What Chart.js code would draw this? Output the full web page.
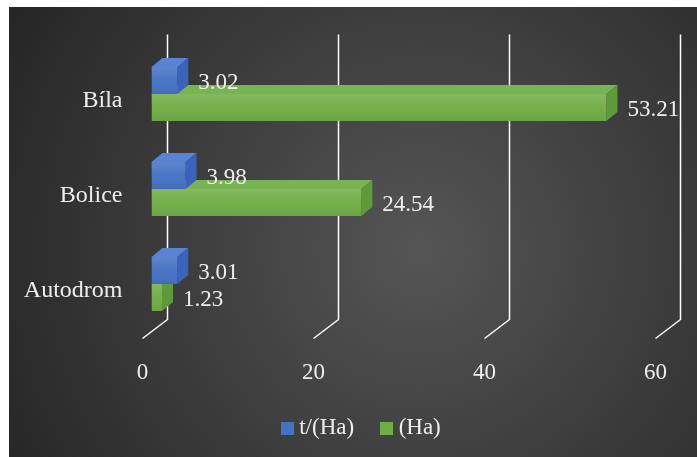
<!DOCTYPE html>
<html>
<head>
<meta charset="utf-8">
<script src="https://cdn.jsdelivr.net/npm/chart.js@4.4.0/dist/chart.umd.min.js"></script>
<style>
  html, body { margin: 0; padding: 0; background: #fff; }
</style>
</head>
<body>
<canvas id="myChart" width="697" height="457"></canvas>
<script>
const places = ['Bíla', 'Bolice', 'Autodrom'];
const tPerHa = [3.02, 3.98, 3.01];
const ha = [53.21, 24.54, 1.23];
const xTickStep = 20;

const serif = "'Liberation Serif', 'Times New Roman', serif";
const textColor = '#eeeeee';
const colors = ['#4472c4', '#70ad47'];

// 3D box: how far the back wall sits from the front edge
const depth = { x: 25, y: -19 };
// bars sit a bit behind the front edge and have their own depth
const barShift = { x: 9, y: -7 };
const barDepth = { x: 11, y: -9 };

const faces = [
    { top: '#5a83d6', side: '#3a63b9' },
    { top: '#78b552', side: '#5e9a39' }
];

// small square swatches for the legend
const swatches = colors.map(c => {
    const cv = document.createElement('canvas');
    cv.width = 13;
    cv.height = 13;
    const x = cv.getContext('2d');
    x.fillStyle = c;
    x.fillRect(0, 0, 13, 13);
    return cv;
});

const backdrop = {
    id: 'backdrop',
    beforeDraw(chart) {
        const ctx = chart.ctx;
        ctx.save();
        ctx.fillStyle = '#fff';
        ctx.fillRect(0, 0, chart.width, chart.height);
        const g = ctx.createRadialGradient(420, 250, 0, 420, 250, 470);
        g.addColorStop(0, '#555555');
        g.addColorStop(1, '#262626');
        ctx.fillStyle = g;
        ctx.fillRect(9, 7, chart.width - 9, chart.height - 7);
        ctx.restore();
    }
};

// legend sits centred under the plot, not under the whole canvas
const legendShift = {
    id: 'legendShift',
    afterLayout(chart) {
        chart.legend.left += 36;
        chart.legend.right += 36;
    }
};

function barBox(bar) {
    const h = bar.height;
    return {
        l: Math.min(bar.base, bar.x) + barShift.x,
        r: Math.max(bar.base, bar.x) + barShift.x,
        t: bar.y - h / 2 + barShift.y,
        b: bar.y + h / 2 + barShift.y
    };
}

function poly(ctx, pts, color) {
    ctx.beginPath();
    ctx.moveTo(pts[0][0], pts[0][1]);
    for (let i = 1; i < pts.length; i++) ctx.lineTo(pts[i][0], pts[i][1]);
    ctx.closePath();
    ctx.fillStyle = color;
    ctx.fill();
}

const box3d = {
    id: 'box3d',
    beforeDatasetsDraw(chart) {
        const { ctx, chartArea: a, scales: { x } } = chart;
        // back wall and floor lines
        ctx.save();
        ctx.strokeStyle = '#ffffff';
        ctx.lineWidth = 1.5;
        x.ticks.forEach(t => {
            const fx = x.getPixelForValue(t.value);
            ctx.beginPath();
            ctx.moveTo(fx, a.bottom);
            ctx.lineTo(fx + depth.x, a.bottom + depth.y);
            ctx.lineTo(fx + depth.x, a.top + depth.y);
            ctx.stroke();
        });
        ctx.restore();

        // top and side faces, lower series first so the upper one overlaps it
        ctx.save();
        for (let d = chart.data.datasets.length - 1; d >= 0; d--) {
            chart.getDatasetMeta(d).data.forEach(bar => {
                const p = barBox(bar);
                poly(ctx, [[p.l, p.t], [p.r, p.t], [p.r + barDepth.x, p.t + barDepth.y], [p.l + barDepth.x, p.t + barDepth.y]], faces[d].top);
                poly(ctx, [[p.r, p.t], [p.r, p.b], [p.r + barDepth.x, p.b + barDepth.y], [p.r + barDepth.x, p.t + barDepth.y]], faces[d].side);
            });
        }
        ctx.restore();

        ctx.save();
        ctx.translate(barShift.x, barShift.y);
    },
    afterDatasetsDraw(chart) {
        const ctx = chart.ctx;
        ctx.restore();
        ctx.save();
        chart.data.datasets.forEach((ds, d) => {
            chart.getDatasetMeta(d).data.forEach((bar, i) => {
                const p = barBox(bar);
                // soft shine on the front face
                const g = ctx.createLinearGradient(0, p.t, 0, p.b);
                g.addColorStop(0, 'rgba(255,255,255,0.14)');
                g.addColorStop(0.5, 'rgba(255,255,255,0.03)');
                g.addColorStop(1, 'rgba(0,0,0,0.06)');
                ctx.fillStyle = g;
                ctx.fillRect(p.l, p.t, p.r - p.l, p.b - p.t);

                ctx.fillStyle = textColor;
                ctx.font = '23px ' + serif;
                ctx.textAlign = 'left';
                ctx.textBaseline = 'middle';
                ctx.fillText(ds.data[i].toFixed(2), p.r + barDepth.x + 10, (p.t + p.b) / 2 + 2);
            });
        });
        ctx.restore();
    }
};

const config = {
    type: 'bar',
    data: {
        labels: places,
        datasets: [
            { label: 't/(Ha)', data: tPerHa, backgroundColor: colors[0] },
            { label: '(Ha)', data: ha, backgroundColor: colors[1] }
        ]
    },
    options: {
        indexAxis: 'y',
        responsive: false,
        animation: false,
        layout: { padding: { top: 53.5, left: 0, right: 41.5, bottom: 12.5 } },
        categoryPercentage: 0.57,
        barPercentage: 1,
        scales: {
            x: {
                min: 0,
                max: 60,
                ticks: { stepSize: xTickStep, color: textColor, font: { family: serif, size: 23 }, padding: 21 },
                grid: { display: false, drawTicks: false },
                border: { display: false },
                afterFit(s) { s.height = 46; }
            },
            y: {
                ticks: { color: textColor, font: { family: serif, size: 24 }, padding: 20 },
                grid: { display: false, drawTicks: false },
                border: { display: false },
                afterFit(s) { s.width = 142.5; }
            }
        },
        plugins: {
            legend: {
                position: 'bottom',
                maxHeight: 60,
                labels: {
                    color: textColor,
                    font: { family: serif, size: 23 },
                    usePointStyle: true,
                    pointStyleWidth: 1,
                    boxHeight: 12,
                    padding: 32,
                    generateLabels(chart) {
                        const items = Chart.defaults.plugins.legend.labels.generateLabels(chart);
                        items.forEach((it, i) => { it.pointStyle = swatches[i]; });
                        return items;
                    }
                }
            },
            tooltip: { enabled: false }
        }
    },
    plugins: [backdrop, legendShift, box3d]
};

const myChart = new Chart(document.getElementById('myChart'), config);
</script>
</body>
</html>
